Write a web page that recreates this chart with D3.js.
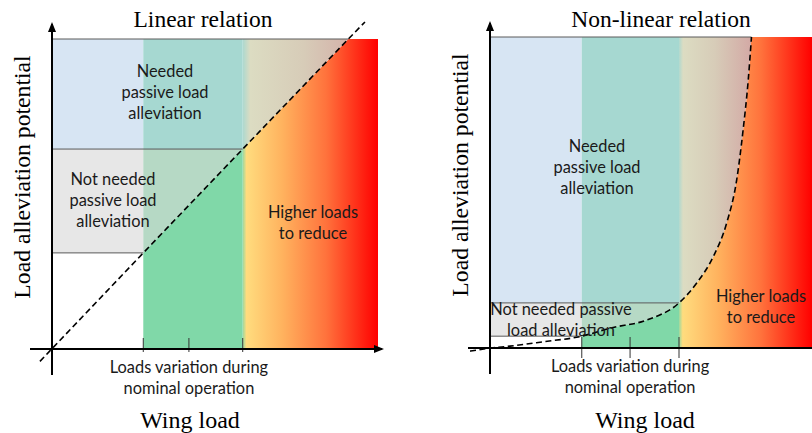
<!DOCTYPE html>
<html><head><meta charset="utf-8">
<script src="https://cdn.jsdelivr.net/npm/d3@7"></script>
<style>
html,body{margin:0;padding:0;background:#fff;}
svg{display:block;}
.ann{font-family:Lato,"Open Sans",sans-serif;font-size:16.4px;fill:#1a1a1a;}
.ser{font-family:"Liberation Serif","DejaVu Serif",serif;fill:#000;}
</style></head>
<body>
<svg id="chart" width="812" height="433"></svg>
<script>
// ---------- data ----------
const titles = ["Linear relation", "Non-linear relation"];
const xLabel = "Wing load";
const yLabel = "Load alleviation potential";
const nominalLabel = ["Loads variation during", "nominal operation"];
const neededLabel = ["Needed", "passive load", "alleviation"];
const notNeededLabelLin = ["Not needed", "passive load", "alleviation"];
const notNeededLabelNon = ["Not needed passive", "load alleviation"];
const higherLabel = ["Higher loads", "to reduce"];

// nominal load range (low, mid, high) in wing-load units
const linearTicks = [2.8, 4.2, 5.85];
const nonlinearTicks = [2.85, 4.35, 5.87];

// linear relation: wing load vs alleviation potential
const linearX = [-0.37, 2.8, 5.85, 9.09, 9.6];
const linearY = [-0.4, 3.1, 6.45, 10, 10.55];
const linearThresholds = [3.1, 6.45]; // not needed / needed limits
const linearTop = 10;

// non-linear relation
const curveX = [-0.62, 0.05, 0.62, 1.65, 2.85, 3.73, 4.87, 5.87, 6.42, 6.93, 7.35, 7.66, 7.86, 8.02, 8.12];
const curveY = [-0.1, 0.0, 0.06, 0.2, 0.38, 0.64, 0.9, 1.45, 2.09, 2.93, 4.02, 5.4, 7.01, 8.62, 10.0];
const nonlinearThresholds = [0.38, 1.45];
const nonlinearTop = 10;

// ---------- drawing ----------
const svg = d3.select("#chart");
const defs = svg.append("defs");

function grad(id, x1, x2, stops){
  const g = defs.append("linearGradient").attr("id", id)
    .attr("gradientUnits","userSpaceOnUse").attr("x1",x1).attr("x2",x2).attr("y1",0).attr("y2",0);
  stops.forEach(s => g.append("stop").attr("offset", s[0]).attr("stop-color", s[1]));
}
defs.append("marker").attr("id","arrow").attr("viewBox","0 0 10 10").attr("refX",8).attr("refY",5)
  .attr("markerWidth",5).attr("markerHeight",5).attr("orient","auto-start-reverse")
  .append("path").attr("d","M0,1 L10,5 L0,9 Z").attr("fill","#000");

const C = {blue:"#d7e5f3", teal:"#a6d8d1", grey:"#e7e7e7", greyTeal:"#b6d9c5", green:"#80d8a8", border:"#5a5a5a"};

function panel(cfg){
  const {id, x, y, ticks, pts, thr, top, curve, axis, title, titleX, ylabX, ylabY, xlabX} = cfg;
  const g = svg.append("g");
  const [lo, mid, hi] = ticks;
  const lineGen = d3.line().x(d=>x(d[0])).y(d=>y(d[1])).curve(curve);
  const curvePath = lineGen(pts);
  const last = pts[pts.length-1];
  const xEnd = x.domain()[1];
  defs.append("clipPath").attr("id", id+"-below").append("path")
    .attr("d", curvePath + `L${x(xEnd+1)},${y(top)}L${x(xEnd+1)},${y(-2)}L${x(-2)},${y(-2)}Z`);
  defs.append("clipPath").attr("id", id+"-above").append("path")
    .attr("d", curvePath + `L${x(-2)},${y(top)}L${x(-2)},${y(-2)}Z`);
  defs.append("clipPath").attr("id", id+"-plot").append("rect")
    .attr("x", x(0)).attr("y", y(top)).attr("width", x(xEnd)-x(0)).attr("height", y(0)-y(top));

  grad(id+"-hot", x(hi)-1, x(xEnd), [[0,C.green],[0.035,"#ffdc7e"],[0.3,"#ffb25e"],[0.62,"#ff723c"],[1,"#ff0000"]]);
  grad(id+"-warm", x(hi)-1, x(last[0]), [[0,C.teal],[0.07,"#dcdcc2"],[0.5,"#d7ccb8"],[1,"#d3a9a5"]]);

  const pg = g.append("g").attr("clip-path", `url(#${id}-plot)`);
  const rectP = (x0,x1,y0,y1,fill,clip) => {
    const wrap = clip ? pg.append("g").attr("clip-path", `url(#${clip})`) : pg;
    wrap.append("rect").attr("x",x(x0)).attr("y",y(y1)).attr("width",x(x1)-x(x0)).attr("height",y(y0)-y(y1)).attr("fill",fill);
  };
  rectP(0, lo, thr[1], top, C.blue);
  rectP(lo, hi, thr[1], top, C.teal);
  rectP(0, lo, thr[0], thr[1], C.grey, id+"-above");
  rectP(lo, hi, 0, thr[1], C.greyTeal, id+"-above");
  rectP(lo, hi, 0, thr[1], C.green, id+"-below");
  rectP(hi, xEnd, 0, top, `url(#${id}-hot)`, id+"-below");
  rectP(hi, xEnd, 0, top, `url(#${id}-warm)`, id+"-above");

  // borders
  const hl = (x0,x1,yy) => g.append("line").attr("x1",x(x0)).attr("x2",x(x1)).attr("y1",y(yy)).attr("y2",y(yy))
     .attr("stroke",C.border).attr("stroke-width",1);
  hl(0, cfg.topX, top);
  hl(0, hi, thr[1]);
  hl(0, lo, thr[0]);

  // ticks
  ticks.forEach(t => g.append("line").attr("x1",x(t)).attr("x2",x(t)).attr("y1",y(0)-cfg.tickUp).attr("y2",y(0)+cfg.tickDown)
     .attr("stroke","#333").attr("stroke-width",1));

  // dashed relation
  g.append("path").attr("d", curvePath).attr("fill","none").attr("stroke","#000")
    .attr("stroke-width",1.6).attr("stroke-dasharray","6,3.5");

  // axes
  g.append("line").attr("x1",x(0)).attr("x2",x(0)).attr("y1",axis.yBottom).attr("y2",axis.yTop)
    .attr("stroke","#000").attr("stroke-width",2).attr("marker-end","url(#arrow)");
  const xa = g.append("line").attr("x1",axis.xLeft).attr("x2",axis.xRight).attr("y1",y(0)).attr("y2",y(0))
    .attr("stroke","#000").attr("stroke-width",2);
  if (axis.xArrow) xa.attr("marker-end","url(#arrow)");

  // texts
  g.append("text").attr("class","ser").attr("x",titleX).attr("y",27).attr("text-anchor","middle")
    .attr("font-size",23.5).text(title);
  g.append("text").attr("class","ser").attr("x",xlabX).attr("y",428).attr("text-anchor","middle")
    .attr("font-size",24).text(xLabel);
  g.append("text").attr("class","ser").attr("transform",`translate(${ylabX},${ylabY}) rotate(-90)`)
    .attr("text-anchor","middle").attr("font-size",23.7).text(yLabel);

  const block = (lines, cx, y0, dy, anchor) => {
    const t = g.append("text").attr("class","ann").attr("text-anchor", anchor||"middle");
    lines.forEach((l,i) => t.append("tspan").attr("x",cx).attr("y",y0+i*dy).text(l));
  };
  block(nominalLabel, x(mid), cfg.nomY, 21);
  cfg.blocks.forEach(b => block(b.lines, b.x, b.y, b.dy || 21, b.anchor));
}

const xL = d3.scaleLinear().domain([0,10]).range([52,378]);
const yL = d3.scaleLinear().domain([0,10]).range([349,39]);
panel({id:"lin", x:xL, y:yL, ticks:linearTicks, pts:d3.zip(linearX, linearY), thr:linearThresholds, top:linearTop,
  topX:9.09, curve:d3.curveLinear, axis:{yBottom:375, yTop:24, xLeft:30, xRight:382, xArrow:true},
  title:titles[0], titleX:203, ylabX:30, ylabY:177, xlabX:190, tickUp:11, tickDown:3, nomY:373,
  blocks:[
    {lines:neededLabel, x:165, y:77},
    {lines:notNeededLabelLin, x:113, y:185},
    {lines:higherLabel, x:313, y:218}
  ]});

const xR = d3.scaleLinear().domain([0,10]).range([490,812]);
const yR = d3.scaleLinear().domain([0,10]).range([348,37]);
panel({id:"non", x:xR, y:yR, ticks:nonlinearTicks, pts:d3.zip(curveX, curveY), thr:nonlinearThresholds, top:nonlinearTop,
  topX:8.12, curve:d3.curveMonotoneX, axis:{yBottom:374, yTop:23, xLeft:468, xRight:812, xArrow:false},
  title:titles[1], titleX:661, ylabX:468, ylabY:175, xlabX:645, tickUp:11, tickDown:10, nomY:372,
  blocks:[
    {lines:neededLabel, x:597, y:152},
    {lines:notNeededLabelNon, x:561, y:315},
    {lines:higherLabel, x:761, y:302}
  ]});
</script>
</body></html>
